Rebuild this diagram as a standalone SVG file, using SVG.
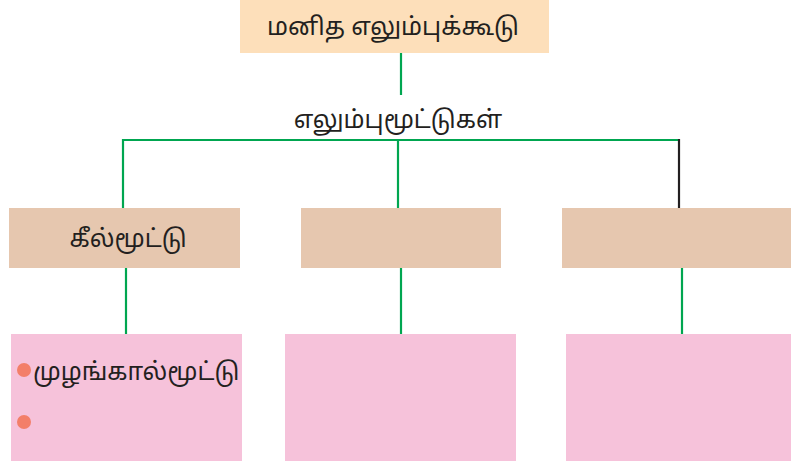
<svg xmlns="http://www.w3.org/2000/svg" width="791" height="462" viewBox="0 0 791 462">
<style>
.t{font-family:"Noto Sans Tamil","Noto Sans","Lato",sans-serif;font-size:24.5px;fill:#231f20}
.top{fill:#FDDFBA}
.tan{fill:#E6C7AF}
.pink{fill:#F6C2DA}
.g{stroke:#00A650;stroke-width:2.2;fill:none}
.k{stroke:#231f20;stroke-width:2.2;fill:none}
.dot{fill:#F37F69}
</style>
<rect width="791" height="462" fill="#fff"/>
<g id="connectors">
<line class="g" x1="401" y1="51" x2="401" y2="95"/>
<polyline class="g" points="123,208 123,140 679,140"/>
<line class="k" x1="679" y1="139" x2="679" y2="208"/>
<line class="g" x1="398" y1="140" x2="398" y2="208"/>
<line class="g" x1="126" y1="268" x2="126" y2="334"/>
<line class="g" x1="401" y1="268" x2="401" y2="334"/>
<line class="g" x1="682" y1="268" x2="682" y2="334"/>
</g>
<g id="root">
<rect class="top" x="240" y="0" width="309" height="53"/>
<text class="t" x="393" y="35" text-anchor="middle">மனித எலும்புக்கூடு</text>
</g>
<g id="label-joints">
<text class="t" x="398" y="128" text-anchor="middle">எலும்புமூட்டுகள்</text>
</g>
<g id="n1">
<rect class="tan" x="9" y="208" width="231" height="60"/>
<text class="t" x="128" y="247" text-anchor="middle">கீல்மூட்டு</text>
</g>
<g id="n2">
<rect class="tan" x="301" y="208" width="200" height="60"/>
</g>
<g id="n3">
<rect class="tan" x="562" y="208" width="229" height="60"/>
</g>
<g id="p1">
<rect class="pink" x="11" y="334" width="231" height="127"/>
<circle class="dot" cx="24" cy="370" r="7"/>
<text class="t" x="33" y="380">முழங்கால்மூட்டு</text>
<circle class="dot" cx="24" cy="422" r="7"/>
</g>
<g id="p2">
<rect class="pink" x="285" y="334" width="231" height="127"/>
</g>
<g id="p3">
<rect class="pink" x="566" y="334" width="225" height="127"/>
</g>
</svg>
